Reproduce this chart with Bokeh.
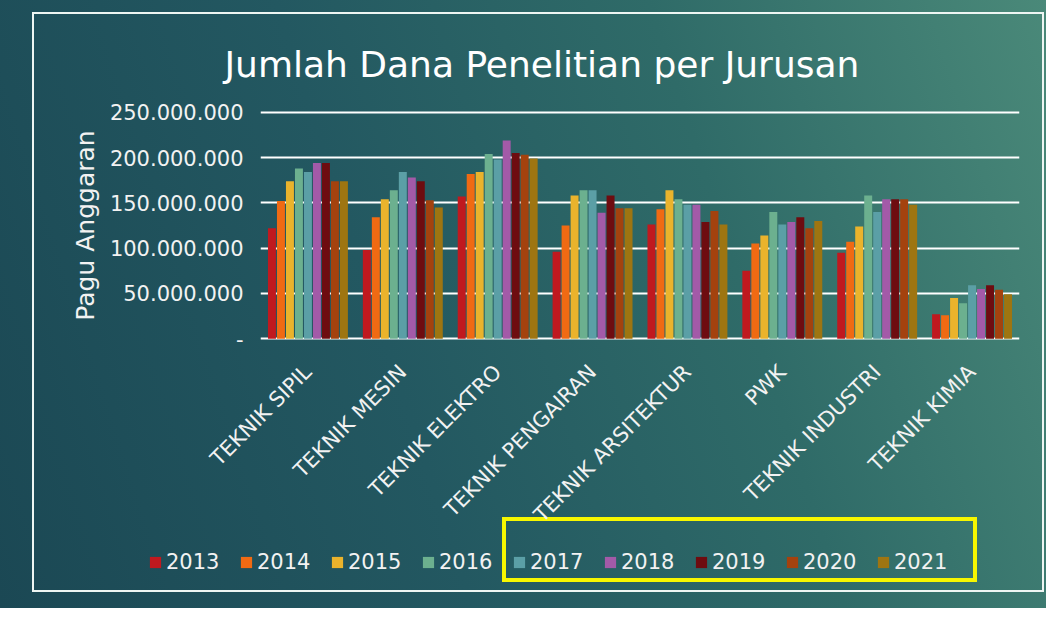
from bokeh.plotting import figure
from bokeh.layouts import column, row
from bokeh.models import (FactorRange, Range1d, FixedTicker, Legend, LegendItem,
                          ColumnDataSource)
from bokeh.transform import dodge
from bokeh.embed import file_html
from bokeh.resources import INLINE

categories = ["TEKNIK SIPIL", "TEKNIK MESIN", "TEKNIK ELEKTRO", "TEKNIK PENGAIRAN",
              "TEKNIK ARSITEKTUR", "PWK", "TEKNIK INDUSTRI", "TEKNIK KIMIA"]
years = ["2013", "2014", "2015", "2016", "2017", "2018", "2019", "2020", "2021"]

y2013 = [122_000_000, 98_000_000, 157_000_000, 96_000_000, 126_000_000, 75_000_000, 95_000_000, 27_000_000]
y2014 = [152_000_000, 134_000_000, 182_000_000, 125_000_000, 143_000_000, 105_000_000, 107_000_000, 26_000_000]
y2015 = [174_000_000, 154_000_000, 184_000_000, 158_000_000, 164_000_000, 114_000_000, 124_000_000, 45_000_000]
y2016 = [188_000_000, 164_000_000, 204_000_000, 164_000_000, 154_000_000, 140_000_000, 158_000_000, 39_000_000]
y2017 = [184_000_000, 184_000_000, 198_000_000, 164_000_000, 148_000_000, 126_000_000, 140_000_000, 59_000_000]
y2018 = [194_000_000, 178_000_000, 219_000_000, 139_000_000, 148_000_000, 129_000_000, 154_000_000, 55_000_000]
y2019 = [194_000_000, 174_000_000, 205_000_000, 158_000_000, 129_000_000, 134_000_000, 154_000_000, 59_000_000]
y2020 = [174_000_000, 153_000_000, 203_000_000, 144_000_000, 141_000_000, 122_000_000, 154_000_000, 54_000_000]
y2021 = [174_000_000, 145_000_000, 199_000_000, 144_000_000, 126_000_000, 130_000_000, 148_000_000, 49_000_000]
series = [y2013, y2014, y2015, y2016, y2017, y2018, y2019, y2020, y2021]

colors = ["#c0191f", "#f06a13", "#eab32c", "#6cb08f", "#5b9fa6",
          "#a35aa8", "#6e0c10", "#a4420e", "#9e7511"]

y_ticks = [0, 50_000_000, 100_000_000, 150_000_000, 200_000_000, 250_000_000]

FONT = "DejaVu Sans"
W, H = 1046, 608
H1 = 538                       # chart figure height, legend strip below it
FL, FT, FR, FB = 260, 110, 1019, 340  # frame edges in canvas px


def css_line(color, x, y, w, h):
    return (f"linear-gradient({color},{color})", f"{x}px {y}px", f"{w}px {h}px")


# decorative white frame and yellow highlight box (drawn in the page background)
deco = [
    css_line("#eef6f3", 32, 12, 1012, 2), css_line("#eef6f3", 32, 590, 1012, 2),
    css_line("#eef6f3", 32, 12, 2, 580), css_line("#eef6f3", 1042, 12, 2, 580),
    css_line("#f7f700", 502, 517, 475, 4), css_line("#f7f700", 502, 578, 475, 4),
    css_line("#f7f700", 502, 517, 4, 65), css_line("#f7f700", 973, 517, 4, 65),
]
bg_grad = "linear-gradient(72deg, #1b4854 0%, #235861 38%, #2f6b68 68%, #4a8979 100%)"
bg_styles = {
    "background-image": ", ".join([d[0] for d in deco] + [bg_grad]),
    "background-position": ", ".join([d[1] for d in deco] + ["0px 0px"]),
    "background-size": ", ".join([d[2] for d in deco] + ["100% 100%"]),
    "background-repeat": "no-repeat",
}

p = figure(width=W, height=H1, x_range=FactorRange(factors=categories, range_padding=0),
           y_range=Range1d(-2_000_000, 252_000_000), output_backend="svg",
           toolbar_location=None,
           min_border_left=FL, min_border_right=W - FR, min_border_top=FT,
           min_border_bottom=H1 - FB)
p.border_fill_alpha = 0
p.background_fill_alpha = 0
p.outline_line_color = None

p.title.text = "Jumlah Dana Penelitian per Jurusan"
p.title.align = "left"
p.title.offset = 232 - 8 - FL
p.title.text_font = FONT
p.title.text_font_size = "36px"
p.title.text_font_style = "normal"
p.title.text_color = "white"
p.title.standoff = 51

p.xgrid.grid_line_color = None
p.ygrid.grid_line_color = "white"
p.ygrid.grid_line_width = 2
p.ygrid.ticker = FixedTicker(ticks=y_ticks)

p.yaxis.ticker = FixedTicker(ticks=y_ticks)
p.yaxis.major_label_overrides = {t: ("-" if t == 0 else f"{t:,}".replace(",", ".")) for t in y_ticks}
p.yaxis.axis_line_color = None
p.yaxis.major_tick_line_color = None
p.yaxis.minor_tick_line_color = None
p.yaxis.major_tick_out = 0
p.yaxis.major_label_standoff = 17
p.yaxis.major_label_text_font = FONT
p.yaxis.major_label_text_font_size = "21px"
p.yaxis.major_label_text_color = "#f2f2f2"
p.yaxis.axis_label = "Pagu Anggaran"
p.yaxis.axis_label_text_font = FONT
p.yaxis.axis_label_text_font_size = "25px"
p.yaxis.axis_label_text_font_style = "normal"
p.yaxis.axis_label_text_color = "#f2f2f2"
p.yaxis.axis_label_standoff = 7

p.xaxis.axis_line_color = None
p.xaxis.major_tick_line_color = None
p.xaxis.minor_tick_line_color = None
p.xaxis.major_tick_out = 0
p.xaxis.major_label_orientation = 0.785398
p.xaxis.major_label_standoff = 28
p.xaxis.major_label_text_font = FONT
p.xaxis.major_label_text_font_size = "21px"
p.xaxis.major_label_text_color = "#f2f2f2"

pitch = 0.0948
sources = []
for i, (vals, col) in enumerate(zip(series, colors)):
    src = ColumnDataSource(data={"cat": categories, "val": vals})
    sources.append(src)
    p.vbar(x=dodge("cat", (i - 4) * pitch, range=p.x_range), top="val", width=0.084,
           source=src, fill_color=col, line_color=None)

# legend strip: its own small plot so the legend is not clipped by the chart frame.
# Its keys point at hidden copies of the series renderers (nothing is drawn there).
H2 = H - H1
lg = figure(width=W, height=H2, x_range=FactorRange(factors=categories, range_padding=0),
            y_range=Range1d(0, 1), output_backend="svg", toolbar_location=None,
            x_axis_location=None, y_axis_location=None, min_border=0,
            min_border_left=0, min_border_right=0, min_border_top=0, min_border_bottom=0)
lg.border_fill_alpha = 0
lg.background_fill_alpha = 0
lg.outline_line_color = None
lg.grid.visible = False
items = []
for yr, col, src in zip(years, colors, sources):
    key = lg.vbar(x="cat", top="val", width=0.084, source=src, fill_color=col,
                  line_color=None, visible=False)
    items.append(LegendItem(label=yr, renderers=[key]))

legend_top = 549 - H1          # legend row centred on the chart's canvas y ~561
legend = Legend(items=items, orientation="horizontal",
                location=(148, H2 - legend_top - 25),
                glyph_width=14, glyph_height=14, label_standoff=4, label_width=56,
                label_height=25, spacing=17, padding=0, margin=0,
                inactive_fill_alpha=0,
                label_text_font=FONT, label_text_font_size="21px",
                label_text_color="#f2f2f2", background_fill_alpha=0, border_line_alpha=0)
lg.add_layout(legend, "center")

page = column(p, row(lg), spacing=0, styles=bg_styles)
open("out.html", "w").write(file_html(page, INLINE))
